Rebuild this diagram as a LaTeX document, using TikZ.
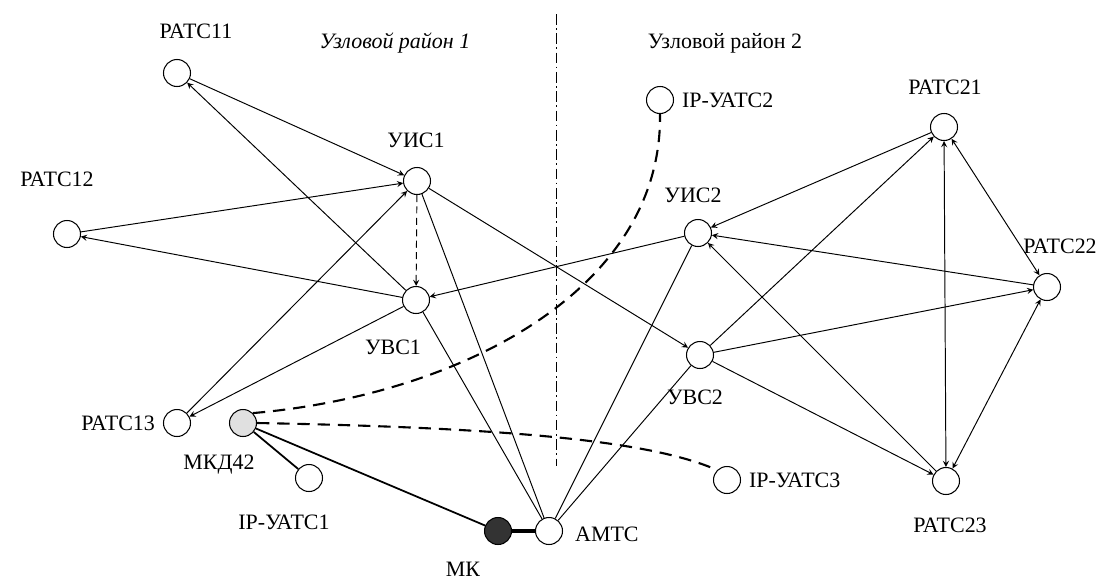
\documentclass[tikz,border=0pt]{standalone}
\usepackage{fontspec}
\setmainfont{Liberation Serif}
\usetikzlibrary{positioning,arrows}

\begin{document}
\begin{tikzpicture}[
    stnode/.style={circle, draw=black, fill=white, line width=0.6pt, minimum size=0.54cm, inner sep=0pt},
    mkdnode/.style={stnode, fill=black!12},
    mknode/.style={stnode, fill=black!80},
    lbl/.style={font=\fontsize{12.5}{14}\selectfont, inner sep=1pt},
    link/.style={draw=black, line width=0.55pt},
    dirlink/.style={link, ->, >=stealth},
    bilink/.style={link, <->, >=stealth},
    iplink/.style={draw=black, line width=1.2pt, dash pattern=on 7pt off 4.5pt},
    trunk/.style={draw=black, line width=1pt}
    ]
        \useasboundingbox (0,0) rectangle (22.38,-11.6);

        %Nodes
        \node[stnode] (r11)  at (3.54,-1.46)  {};
        \node[stnode] (r12)  at (1.34,-4.68)  {};
        \node[stnode] (r13)  at (3.54,-8.46)  {};
        \node[stnode] (uis1) at (8.34,-3.62)  {};
        \node[stnode] (uvs1) at (8.32,-6.00)  {};
        \node[mkdnode] (mkd) at (4.86,-8.46)  {};
        \node[stnode] (ip1)  at (6.18,-9.56)  {};
        \node[mknode] (mk)   at (9.96,-10.62) {};
        \node[stnode] (amts) at (10.98,-10.62) {};
        \node[stnode] (ip2)  at (13.20,-2.00) {};
        \node[stnode] (uis2) at (13.96,-4.66) {};
        \node[stnode] (uvs2) at (14.00,-7.10) {};
        \node[stnode] (ip3)  at (14.54,-9.60) {};
        \node[stnode] (r21)  at (18.88,-2.54) {};
        \node[stnode] (r22)  at (20.94,-5.74) {};
        \node[stnode] (r23)  at (18.92,-9.62) {};

        %Labels
        \node[lbl] (r11l)  at (3.92,-0.62)  {РАТС11};
        \node[lbl] (r12l)  at (1.14,-3.58)  {РАТС12};
        \node[lbl, left=0.12 of r13] (r13l) {РАТС13};
        \node[lbl] (uis1l) at (8.32,-2.80)  {УИС1};
        \node[lbl] (uvs1l) at (7.86,-6.94)  {УВС1};
        \node[lbl] (mkdl)  at (4.38,-9.30)  {МКД42};
        \node[lbl] (ip1l)  at (5.68,-10.44) {IP-УАТС1};
        \node[lbl] (mkl)   at (9.26,-11.38) {МК};
        \node[lbl, right=0.2 of amts, yshift=-2pt] (amtsl) {АМТС};
        \node[lbl, right=0.12 of ip2] (ip2l) {IP-УАТС2};
        \node[lbl] (uis2l) at (13.86,-3.90) {УИС2};
        \node[lbl] (uvs2l) at (13.90,-7.94) {УВС2};
        \node[lbl, right=0.12 of ip3] (ip3l) {IP-УАТС3};
        \node[lbl] (r21l)  at (18.90,-1.74) {РАТС21};
        \node[lbl] (r22l)  at (21.20,-4.92) {РАТС22};
        \node[lbl] (r23l)  at (19.00,-10.50) {РАТС23};
        \node[lbl, font=\fontsize{12.5}{14}\selectfont\itshape] (zone1) at (7.90,-0.86) {Узловой район 1};
        \node[lbl] (zone2) at (14.50,-0.86) {Узловой район 2};

        %Border between zones
        \coordinate (btop) at (11.12,-0.28);
        \coordinate (bbot) at (11.12,-9.32);
        \draw[line width=0.5pt, dash pattern=on 6pt off 2pt on 1pt off 2pt] (btop) -- (bbot);

        %Lines
        \draw[dirlink] (r11) -- (uis1);
        \draw[dirlink] (r12) -- (uis1);
        \draw[dirlink] (r13) -- (uis1);
        \draw[dirlink] (uvs1) -- (r11);
        \draw[dirlink] (uvs1) -- (r12);
        \draw[dirlink] (uvs1) -- (r13);
        \draw[dirlink, dash pattern=on 4pt off 2.5pt] (uis1) -- (uvs1);
        \draw[dirlink] (uis1) -- (uvs2);
        \draw[dirlink] (uis2) -- (uvs1);
        \draw[link] (uis1) -- (amts);
        \draw[link] (uvs1) -- (amts);
        \draw[link] (uis2) -- (amts);
        \draw[link] (uvs2) -- (amts);
        \draw[dirlink] (r21) -- (uis2);
        \draw[dirlink] (r22) -- (uis2);
        \draw[dirlink] (r23) -- (uis2);
        \draw[dirlink] (uvs2) -- (r21);
        \draw[dirlink] (uvs2) -- (r22);
        \draw[dirlink] (uvs2) -- (r23);
        \draw[bilink] (r21) -- (r22);
        \draw[bilink] (r21) -- (r23);
        \draw[bilink] (r22) -- (r23);

        \draw[trunk] (mkd) -- (mk);
        \draw[trunk] (mkd) -- (ip1);
        \draw[draw=black, line width=2.2pt] (mk) -- (amts);

        \draw[iplink] (mkd.north east) .. controls (9.2,-7.9) and (13.25,-5.8) .. (ip2.south);
        \draw[iplink] (mkd.east) .. controls (10,-8.55) and (13,-8.8) .. (ip3.north west);
    \end{tikzpicture}
\end{document}
